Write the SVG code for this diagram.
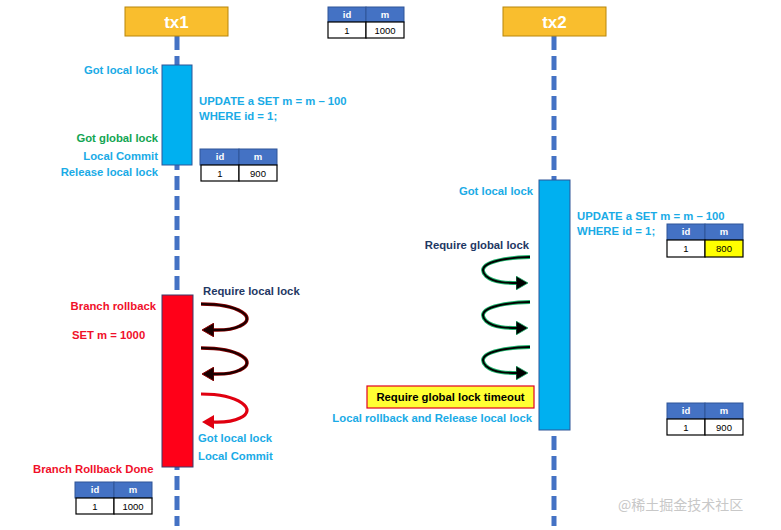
<svg xmlns="http://www.w3.org/2000/svg" width="781" height="530" viewBox="0 0 781 530">
<style>
text{font-family:"Liberation Sans",Arial,sans-serif;font-weight:bold;font-size:11.3px}
.lb{fill:#1AABE6}
.gr{fill:#12A552}
.nv{fill:#1F3864}
.rd{fill:#F0102A}
.r{text-anchor:end}
.hdr{fill:#4472C4;stroke:#2F5597;stroke-width:1}
.cell{fill:#fff;stroke:#000;stroke-width:1.2}
.th{fill:#fff;font-size:9.5px;text-anchor:middle}
.td{fill:#000;font-size:9.5px;text-anchor:middle;font-weight:normal}
.life{stroke:#4472C4;stroke-width:5;stroke-dasharray:14 6;fill:none}
.head{fill:#F9BE2E;stroke:#B8860B;stroke-width:1}
.ht{fill:#fff;font-size:17px;text-anchor:middle}
.loopA{fill:none;stroke:#8B0000;stroke-width:3.6}
.loopAi{fill:none;stroke:#1a0000;stroke-width:2}
.loopR{fill:none;stroke:#E00010;stroke-width:3.2}
.loopG{fill:none;stroke:#1DB36B;stroke-width:3.8}
.loopGi{fill:none;stroke:#000;stroke-width:2}
</style>
<defs>
<marker id="ahD" viewBox="0 0 12 14" refX="2" refY="7" markerWidth="12" markerHeight="14" markerUnits="userSpaceOnUse" orient="auto"><path d="M0,0 L12,7 L0,14 Z" fill="#1a0000" stroke="#8B0000" stroke-width="1"/></marker>
<marker id="ahR" viewBox="0 0 12 14" refX="2" refY="7" markerWidth="12" markerHeight="14" markerUnits="userSpaceOnUse" orient="auto"><path d="M0,0 L12,7 L0,14 Z" fill="#E00010"/></marker>
<marker id="ahG" viewBox="0 0 12 14" refX="2" refY="7" markerWidth="12" markerHeight="14" markerUnits="userSpaceOnUse" orient="auto"><path d="M0,0 L12,7 L0,14 Z" fill="#000" stroke="#1DB36B" stroke-width="0.8"/></marker>
</defs>

<g id="lifelines">
<line class="life" x1="177" y1="36" x2="177" y2="526"/>
<line class="life" x1="554" y1="36" x2="554" y2="526"/>
</g>

<g id="tx1">
<rect class="head" x="125" y="7" width="103" height="29"/>
<text class="ht" x="176.5" y="28">tx1</text>
</g>
<g id="tx2">
<rect class="head" x="503" y="7" width="103" height="29"/>
<text class="ht" x="554.5" y="28">tx2</text>
</g>

<g id="tx1-activation1"><rect x="162" y="65" width="30" height="100" fill="#00B0F0" stroke="#2F5597" stroke-width="1"/></g>
<g id="tx1-rollback"><rect x="162" y="295" width="31" height="172" fill="#FF0018" stroke="#3A3A6A" stroke-width="1"/></g>
<g id="tx2-activation"><rect x="539" y="180" width="31" height="250" fill="#00B0F0" stroke="#2F5597" stroke-width="1"/></g>

<g id="table-top">
<rect class="hdr" x="328" y="7" width="38" height="15"/><rect class="hdr" x="366" y="7" width="38" height="15"/>
<rect class="cell" x="328" y="22" width="38" height="16"/><rect class="cell" x="366" y="22" width="38" height="16"/>
<text class="th" x="347" y="18">id</text><text class="th" x="385" y="18">m</text>
<text class="td" x="347" y="34">1</text><text class="td" x="385" y="34">1000</text>
</g>
<g id="table-900a">
<rect class="hdr" x="200" y="149" width="39" height="16"/><rect class="hdr" x="239" y="149" width="38" height="16"/>
<rect class="cell" x="201" y="165" width="38" height="16"/><rect class="cell" x="239" y="165" width="38" height="16"/>
<text class="th" x="220" y="160">id</text><text class="th" x="258" y="160">m</text>
<text class="td" x="220" y="177">1</text><text class="td" x="258" y="177">900</text>
</g>
<g id="table-800">
<rect class="hdr" x="667" y="224" width="38" height="16"/><rect class="hdr" x="705" y="224" width="38" height="16"/>
<rect class="cell" x="667" y="240" width="38" height="17"/><rect x="705" y="240" width="38" height="17" fill="#FFFF00" stroke="#000" stroke-width="1.2"/>
<text class="th" x="686" y="235">id</text><text class="th" x="724" y="235">m</text>
<text class="td" x="686" y="252">1</text><text class="td" x="724" y="252">800</text>
</g>
<g id="table-900b">
<rect class="hdr" x="667" y="403" width="38" height="16"/><rect class="hdr" x="705" y="403" width="38" height="16"/>
<rect class="cell" x="667" y="419" width="38" height="16"/><rect class="cell" x="705" y="419" width="38" height="16"/>
<text class="th" x="686" y="414">id</text><text class="th" x="724" y="414">m</text>
<text class="td" x="686" y="431">1</text><text class="td" x="724" y="431">900</text>
</g>
<g id="table-bottom">
<rect class="hdr" x="75" y="482" width="39" height="16"/><rect class="hdr" x="114" y="482" width="38" height="16"/>
<rect class="cell" x="76" y="498" width="38" height="16"/><rect class="cell" x="114" y="498" width="38" height="16"/>
<text class="th" x="95" y="493">id</text><text class="th" x="133" y="493">m</text>
<text class="td" x="95" y="510">1</text><text class="td" x="133" y="510">1000</text>
</g>

<g id="connectors">
<path class="loopA" d="M201,304 C240,304 258,318 240,326 C230,331 220,330 212,330" marker-end="url(#ahD)"/>
<path class="loopAi" d="M201,304 C240,304 258,318 240,326 C230,331 220,330 212,330"/>
<path class="loopA" d="M201,348 C240,348 258,362 240,370 C230,375 220,374 212,374" marker-end="url(#ahD)"/>
<path class="loopAi" d="M201,348 C240,348 258,362 240,370 C230,375 220,374 212,374"/>
<path class="loopR" d="M201,394 C240,394 258,410 240,418 C230,423 220,422 212,422" marker-end="url(#ahR)"/>
<path class="loopG" d="M530,257 C495,258 475,265 486,276 C494,283 508,283 518,283" marker-end="url(#ahG)"/>
<path class="loopGi" d="M530,257 C495,258 475,265 486,276 C494,283 508,283 518,283"/>
<path class="loopG" d="M530,302 C495,303 475,310 486,321 C494,328 508,328 518,328" marker-end="url(#ahG)"/>
<path class="loopGi" d="M530,302 C495,303 475,310 486,321 C494,328 508,328 518,328"/>
<path class="loopG" d="M530,347 C495,348 475,355 486,366 C494,373 508,373 518,373" marker-end="url(#ahG)"/>
<path class="loopGi" d="M530,347 C495,348 475,355 486,366 C494,373 508,373 518,373"/>
</g>

<g id="timeout">
<rect x="367" y="386" width="167" height="22" fill="#FFFF33" stroke="#E00020" stroke-width="1.2"/>
<text x="450.5" y="401" text-anchor="middle" fill="#000">Require global lock timeout</text>
</g>

<g id="labels">
<text class="lb r" x="158" y="74">Got local lock</text>
<text class="lb" x="199" y="105">UPDATE a SET m = m – 100</text>
<text class="lb" x="199" y="120">WHERE id = 1;</text>
<text class="gr r" x="158" y="142">Got global lock</text>
<text class="lb r" x="158" y="160">Local Commit</text>
<text class="lb r" x="158" y="176">Release local lock</text>
<text class="lb r" x="533" y="195">Got local lock</text>
<text class="lb" x="577" y="220">UPDATE a SET m = m – 100</text>
<text class="lb" x="577" y="235">WHERE id = 1;</text>
<text class="nv r" x="529" y="249">Require global lock</text>
<text class="nv" x="203" y="295">Require local lock</text>
<text class="rd r" x="156" y="310">Branch rollback</text>
<text class="rd" x="72" y="339">SET m = 1000</text>
<text class="lb" x="198" y="442">Got local lock</text>
<text class="lb" x="198" y="460">Local Commit</text>
<text class="rd" x="33" y="473">Branch Rollback Done</text>
<text class="lb r" x="532" y="422">Local rollback and Release local lock</text>
</g>
<text x="618" y="510" style="font-family:'Noto Sans CJK SC','Liberation Sans',sans-serif;font-weight:normal;font-size:14px;fill:#C8C8C8">@稀土掘金技术社区</text>
</svg>
